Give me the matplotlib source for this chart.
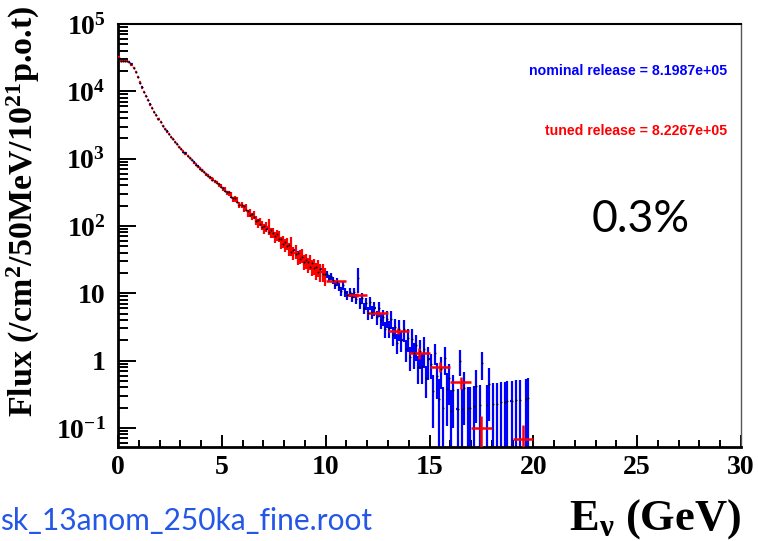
import numpy as np
import matplotlib.pyplot as plt
from matplotlib.ticker import FixedLocator, FixedFormatter, LogLocator, MultipleLocator, NullFormatter

plt.rcParams['mathtext.fontset'] = 'custom'
plt.rcParams['mathtext.rm'] = 'Liberation Serif:bold'
plt.rcParams['mathtext.it'] = 'Liberation Serif:bold'
plt.rcParams['mathtext.bf'] = 'Liberation Serif:bold'

# nominal release, 0.1 GeV bins from 0 to 20 GeV (flux, error in %)
nom_flux = [
    31600, 28200, 28500, 28200, 27900, 26900, 25100, 22400, 19500, 16400,
    13500, 11400, 9660, 8410, 7330, 6380, 5620, 4950, 4400, 3910,
    3470, 3090, 2790, 2530, 2310, 2110, 1930, 1770, 1630, 1500,
    1400, 1270, 1195, 1090, 1030, 940, 885, 812, 775, 712,
    680, 625, 600, 551, 530, 488, 468, 430, 414, 380,
    372, 330, 322, 314, 270, 258, 257, 229, 206, 208,
    200, 171, 164, 144, 150, 137, 120, 124, 107, 97,
    100, 91, 80.5, 86.7, 79, 70.4, 74.8, 63.6, 63.5, 54.3,
    56.9, 49.8, 52.4, 41.1, 43.2, 38.1, 39.4, 32.8, 34.0, 29.0,
    31.5, 28.9, 24.3, 27.8, 23.8, 24.2, 20.9, 23.3, 19.3, 19.5,
    19.0, 16.8, 17.9, 15.7, 13.1, 14.7, 12.5, 10.7, 13.1, 10.5,
    9.5, 10.3, 8.8, 10.4, 8.35, 17.0, 7.1, 8.6, 6.0, 7.1,
    5.1, 7.3, 5.3, 6.0, 4.4, 6.0, 4.0, 4.4, 2.95, 4.2,
    3.0, 4.2, 2.4, 3.1, 1.85, 2.95, 2.05, 2.9, 1.5, 2.15,
    1.13, 2.1, 1.28, 1.7, 0.8, 1.4, 0.84, 1.5, 0.55, 1.05,
    0.9, 0.35, 1.3, 0.6, 0.27, 0.75, 0.2, 1.1, 0.38, 0.55,
    0.18, 0.36, 0, 0.19, 1.0, 0.19, 0.39, 0, 0.2, 0.2,
    0, 0.21, 0.42, 0, 0.22, 0.93, 0, 0.22, 0.45, 0,
    0.23, 0, 0.23, 0, 0.24, 0, 0.24, 0.25, 0, 0.25,
    0, 0.26, 0, 0.26, 0, 0, 0.27, 0.28, 0, 0,
]
nom_err_pct = [
    1, 1, 1, 1, 1, 1, 1, 1, 1, 1,
    1, 1, 1, 1, 1, 1, 1, 1, 1, 1,
    1, 1, 1, 1, 1, 1, 1, 1, 1, 1,
    1, 1, 1, 1, 1, 1, 1, 2, 2, 2,
    2, 2, 2, 2, 2, 2, 2, 2, 2, 2,
    2, 3, 3, 3, 3, 3, 3, 3, 3, 3,
    3, 4, 4, 4, 4, 4, 4, 4, 4, 5,
    5, 5, 5, 5, 5, 6, 6, 6, 6, 6,
    6, 7, 7, 7, 7, 7, 8, 8, 8, 8,
    8, 9, 9, 9, 9, 10, 10, 10, 10, 11,
    11, 12, 12, 12, 13, 13, 13, 14, 14, 15,
    15, 16, 16, 17, 17, 40, 18, 19, 19, 20,
    21, 22, 22, 23, 24, 25, 26, 26, 27, 28,
    29, 30, 31, 32, 33, 34, 35, 36, 37, 38,
    39, 40, 42, 43, 44, 46, 47, 48, 50, 51,
    40, 72, 35, 55, 100, 50, 100, 45, 72, 60,
    100, 72, 0, 100, 42, 100, 72, 0, 100, 100,
    0, 100, 72, 0, 100, 45, 0, 100, 72, 0,
    100, 0, 100, 0, 100, 0, 100, 100, 0, 100,
    0, 100, 0, 100, 0, 0, 100, 100, 0, 0,
]

# tuned release: 0.1 GeV bins up to 10 GeV, then 1 GeV bins
tuned_fine_flux = [
    31900, 28300, 28400, 28300, 27800, 27000, 25000, 22500, 19400, 16500,
    13600, 11300, 9700, 8380, 7360, 6350, 5650, 4930, 4420, 3890,
    3490, 3080, 2800, 2520, 2320, 2100, 1940, 1760, 1640, 1490,
    1385, 1290, 1180, 1110, 1015, 955, 870, 828, 760, 726,
    668, 640, 588, 565, 518, 500, 457, 442, 404, 390,
    354, 354, 309, 305, 295, 250, 249, 245, 208, 206,
    183, 190, 156, 158, 139, 147, 122, 109, 116, 103,
    91.8, 97.8, 99.5, 78.5, 79.7, 68.9, 72.8, 71.5, 57.4, 59.0,
    52.0, 54.9, 46.2, 52.7, 39.8, 41.7, 33.9, 35.9, 36.6, 30.0,
    30.6, 26.6, 29.7, 24.9, 25.7, 21.7, 24.0, 20.8, 20.9, 18.1,
]
tuned_fine_err_pct = [
    1, 1, 1, 1, 1, 1, 1, 1, 1, 1,
    1, 1, 1, 1, 1, 1, 1, 1, 1, 1,
    1, 1, 1, 1, 1, 1, 1, 1, 1, 2,
    2, 2, 2, 2, 3, 3, 3, 3, 4, 4,
    4, 4, 5, 5, 5, 6, 6, 6, 7, 7,
    7, 8, 8, 8, 9, 9, 10, 10, 10, 11,
    11, 12, 12, 13, 13, 14, 14, 15, 15, 16,
    16, 17, 26, 17, 18, 18, 19, 19, 20, 20,
    21, 21, 22, 32, 22, 23, 23, 24, 24, 25,
    25, 26, 26, 27, 27, 28, 28, 29, 29, 30,
]
tuned_wide_flux = [15, 9.5, 5.1, 2.75, 1.3, 0.81, 0.48, 0.10, 0, 0.069]
tuned_wide_err_pct = [5, 6, 7, 10, 18, 16, 20, 48, 0, 60]

nominal_label = 'nominal release = 8.1987e+05'
tuned_label = 'tuned release = 8.2267e+05'
file_label = 'sk_13anom_250ka_fine.root'
diff_label = '0.3%'

W, H = 758, 541
fig = plt.figure(figsize=(W / 100, H / 100), dpi=100)
ax = fig.add_axes([118 / W, 1 - 447 / H, (741 - 118) / W, (447 - 24) / H])


def hist_err(ax, flux, pct, width, start, color, lw, z):
    flux = np.array(flux, float)
    err = flux * np.array(pct, float) / 100
    x = start + width * (np.arange(len(flux)) + 0.5)
    ok = flux > 0
    lo = np.minimum(err, flux * 0.999)  # bars that reach zero run off the log axis
    ax.errorbar(x[ok], flux[ok], yerr=[lo[ok], err[ok]], xerr=width / 2, fmt='none',
                ecolor=color, elinewidth=lw, capsize=0, zorder=z)
    return x[ok], flux[ok]


nx, ny = hist_err(ax, nom_flux, nom_err_pct, 0.1, 0.0, 'blue', 1.6, 2)
hist_err(ax, tuned_fine_flux, tuned_fine_err_pct, 0.1, 0.0, 'red', 1.6, 3)
hist_err(ax, tuned_wide_flux, tuned_wide_err_pct, 1.0, 10.0, 'red', 1.8, 3)
ax.plot(nx, ny, '.', color='black', ms=2.8, mew=0, zorder=4)

ax.set_yscale('log')
ax.set_xlim(0, 30)
ax.set_ylim(0.052, 1e5)

serif = dict(family='Liberation Serif', weight='bold')
ax.yaxis.set_major_locator(FixedLocator([0.1, 1, 10, 100, 1e3, 1e4, 1e5]))
ax.yaxis.set_major_formatter(FixedFormatter(['10$^{-1}$', '1', '10', '10$^{2}$', '10$^{3}$', '10$^{4}$', '10$^{5}$']))
ax.yaxis.set_minor_locator(LogLocator(base=10, subs=np.arange(2, 10)))
ax.yaxis.set_minor_formatter(NullFormatter())
ax.xaxis.set_major_locator(MultipleLocator(5))
ax.xaxis.set_minor_locator(MultipleLocator(1))
ax.tick_params(which='both', direction='in', top=False, right=False, width=1.4, colors='black')
ax.tick_params(axis='y', which='major', length=13, pad=9)
ax.tick_params(axis='y', which='minor', length=7)
ax.tick_params(axis='x', which='major', length=9, pad=6)
ax.tick_params(axis='x', which='minor', length=5)
for lab in ax.get_xticklabels() + ax.get_yticklabels():
    lab.set_fontfamily('Liberation Serif')
    lab.set_fontweight('bold')
    lab.set_fontsize(20)

ax.spines['left'].set_linewidth(2)
ax.spines['bottom'].set_linewidth(2)
ax.spines['top'].set_linewidth(1.5)
ax.spines['right'].set_linewidth(1)
ax.spines['right'].set_color('#555555')

fig.text(23 / W, 1 - 211 / H, 'Flux (/cm$^{2}$/50MeV/10$^{21}$p.o.t)', rotation=90,
         ha='center', va='center', fontsize=24.5, **serif)
fig.text(741 / W, 1 - 530 / H, r'E$_{\nu}$ (GeV)', ha='right', va='baseline', fontsize=32, **serif)

fig.text(727 / W, 1 - 75 / H, nominal_label, ha='right', va='baseline', color='blue',
         family='Liberation Sans', weight='bold', fontsize=10.2)
fig.text(727 / W, 1 - 135 / H, tuned_label, ha='right', va='baseline', color='red',
         family='Liberation Sans', weight='bold', fontsize=10.2)
fig.text(592 / W, 1 - 232 / H, diff_label, ha='left', va='baseline', color='black',
         family='Lato', fontsize=32)
fig.text(0 / W, 1 - 530 / H, file_label, ha='left', va='baseline', color='#2457e6',
         family='Lato', fontsize=21.5)

fig.savefig('out.png', dpi=100)
